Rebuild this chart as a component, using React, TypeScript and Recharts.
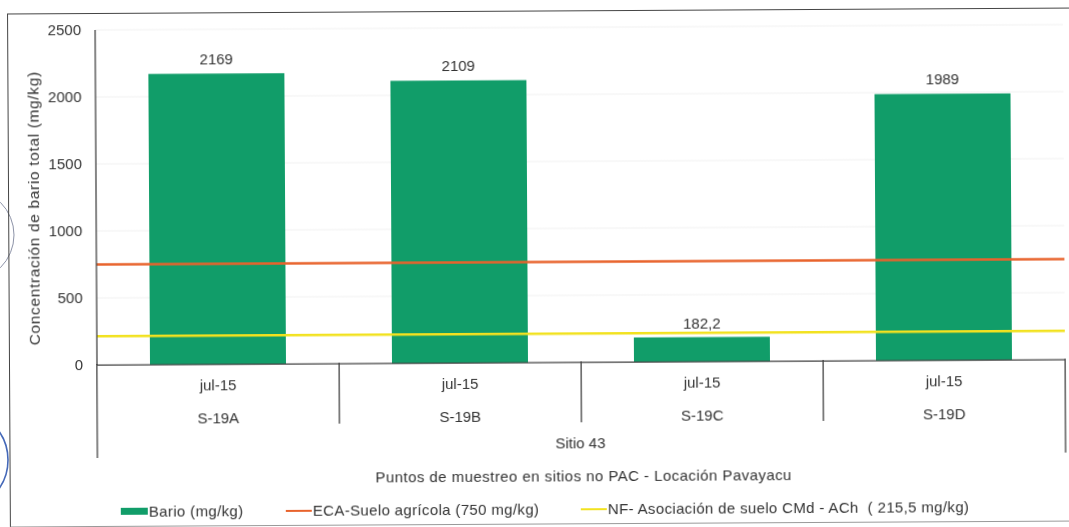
import React from "react";
import { ComposedChart, Bar, Line, XAxis, YAxis, CartesianGrid, LabelList, Legend } from "recharts";

const sites = ["S-19A", "S-19B", "S-19C", "S-19D"];
const dates = ["jul-15", "jul-15", "jul-15", "jul-15"];
const bario = [2169, 2109, 182.2, 1989];
const yTicks = [0, 500, 1000, 1500, 2000, 2500];
const limitEnds = [0, 1];
const eca = [750, 750];
const nf = [215.5, 215.5];

const rows = sites.map((s, i) => ({ site: s, date: dates[i], bario: bario[i] }));
const ecaRows = limitEnds.map((p, i) => ({ p, eca: eca[i] }));
const nfRows = limitEnds.map((p, i) => ({ p, nf: nf[i] }));

const FONT = "'Liberation Sans', Arial, sans-serif";
const TEXT = "#333";
const AXIS = "#444";

const SiteTick = (props: any) => {
  const { x, y, payload, index } = props;
  const band = 969 / sites.length;
  const row = rows[index];
  return (
    <g>
      <text x={x} y={y + 18} textAnchor="middle" fontSize={15} fill={TEXT} fontFamily={FONT}>{row?.date}</text>
      <text x={x} y={y + 51} textAnchor="middle" fontSize={15} fill={TEXT} fontFamily={FONT}>{payload.value}</text>
      {index < sites.length - 1 ? <line x1={x + band / 2} x2={x + band / 2} y1={y - 9} y2={y + 52} stroke={AXIS} strokeWidth={1.3} /> : null}
      {index === 0 ? <line x1={x - band / 2} x2={x - band / 2} y1={y - 9} y2={y + 85} stroke={AXIS} strokeWidth={1.3} /> : null}
      {index === sites.length - 1 ? <line x1={x + band / 2} x2={x + band / 2} y1={y - 9} y2={y + 85} stroke={AXIS} strokeWidth={1.3} /> : null}
    </g>
  );
};

const LegendRow = (props: any) => {
  const items = props.payload || [];
  const offsets = [120, 285, 580];
  return (
    <div style={{ position: "relative", height: 20, fontFamily: FONT, fontSize: 15, letterSpacing: 0.35, color: TEXT }}>
      {items.map((it: any, i: number) => (
        <div key={i} style={{ position: "absolute", left: offsets[i], top: 0, display: "flex", alignItems: "center", whiteSpace: "pre" }}>
          <span style={{ display: "inline-block", width: i === 0 ? 27 : 26, height: i === 0 ? 7 : 2, background: it.color, marginRight: 1 }} />
          {it.value}
        </div>
      ))}
    </div>
  );
};

export default function App() {
  return (
    <div style={{ position: "absolute", left: 0, top: 0, width: 1069, height: 527, overflow: "hidden", background: "#fff" }}>
      <svg width={1069} height={527} style={{ position: "absolute", left: 0, top: 0 }}>
        <circle cx={-32} cy={235} r={46} fill="none" stroke="#8d93a8" strokeWidth={1} />
        <circle cx={-42} cy={460} r={50} fill="none" stroke="#4468b8" strokeWidth={1.6} />
      </svg>
      <div style={{ position: "absolute", left: 0, top: 0, width: 1069, height: 527, transform: "rotate(-0.32deg)", transformOrigin: "96px 366px", filter: "blur(0.45px)" }}>
        <div style={{ position: "absolute", left: 9, top: 13, width: 1070, height: 512, borderLeft: "1.5px solid #444", borderTop: "1.5px solid #444", borderBottom: "1px solid #999" }} />
        <ComposedChart width={1069} height={527} data={rows} margin={{ top: 30, right: 4, bottom: 135, left: 96 }} style={{ position: "absolute", left: 0, top: 0 }}>
          <CartesianGrid horizontal vertical={false} stroke="#f1f1f1" />
          <XAxis dataKey="site" xAxisId="cat" interval={0} tick={<SiteTick />} tickLine={false} height={1} axisLine={{ stroke: AXIS, strokeWidth: 1.3 }} />
          <XAxis xAxisId="line" type="number" dataKey="p" domain={[0, 1]} hide />
          <YAxis width={1} domain={[0, 2500]} ticks={yTicks} interval={0} tickLine={false} tickMargin={8} axisLine={{ stroke: AXIS, strokeWidth: 1.3 }} tick={{ fontSize: 15, fill: TEXT, fontFamily: FONT }} />
          <Bar xAxisId="cat" dataKey="bario" name="Bario (mg/kg)" fill="#119d69" barSize={136} isAnimationActive={false}>
            <LabelList dataKey="bario" position="top" offset={9} fontSize={15} fill={TEXT} fontFamily={FONT} formatter={(v: any) => String(v).replace(".", ",")} />
          </Bar>
          <Line xAxisId="line" data={ecaRows} dataKey="eca" name="ECA-Suelo agrícola (750 mg/kg)" stroke="#e8632c" strokeWidth={2.5} dot={false} isAnimationActive={false} />
          <Line xAxisId="line" data={nfRows} dataKey="nf" name="NF- Asociación de suelo CMd - ACh  ( 215,5 mg/kg)" stroke="#f2e21f" strokeWidth={2.5} dot={false} isAnimationActive={false} />
          <Legend content={<LegendRow />} verticalAlign="bottom" wrapperStyle={{ left: 0, width: 1069, top: 503 }} />
          <text x={40} y={208} textAnchor="middle" fontSize={15.5} letterSpacing={0.65} fill={TEXT} fontFamily={FONT} transform="rotate(-90 40 208)">Concentración de bario total (mg/kg)</text>
          <text x={580} y={451} textAnchor="middle" fontSize={15} fill={TEXT} fontFamily={FONT}>Sitio 43</text>
          <text x={583} y={484} textAnchor="middle" fontSize={15} letterSpacing={0.45} fill={TEXT} fontFamily={FONT}>Puntos de muestreo en sitios no PAC - Locación Pavayacu</text>
        </ComposedChart>
      </div>
    </div>
  );
}
